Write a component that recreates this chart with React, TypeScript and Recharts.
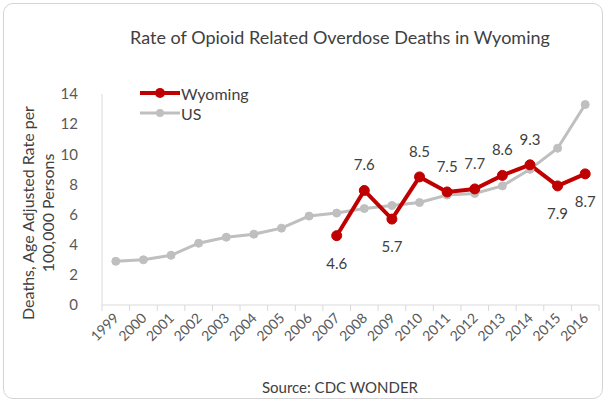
import React from "react";
import { LineChart, Line, XAxis, YAxis, LabelList } from "recharts";

const years = ["1999", "2000", "2001", "2002", "2003", "2004", "2005", "2006", "2007", "2008", "2009", "2010", "2011", "2012", "2013", "2014", "2015", "2016"];
const usRates = [2.9, 3.0, 3.3, 4.1, 4.5, 4.7, 5.1, 5.9, 6.1, 6.4, 6.6, 6.8, 7.3, 7.4, 7.9, 9.0, 10.4, 13.3];
const wyomingRates = [null, null, null, null, null, null, null, null, 4.6, 7.6, 5.7, 8.5, 7.5, 7.7, 8.6, 9.3, 7.9, 8.7];
const wyomingLabelSide = ["", "", "", "", "", "", "", "", "below", "above", "below", "above", "above", "above", "above", "above", "below", "below"];
const yTicks = [0, 2, 4, 6, 8, 10, 12, 14];

const data = years.map((year, i) => ({ year, us: usRates[i], wyoming: wyomingRates[i] }));

const W = 608;
const H = 405;
const font = "Lato, 'Open Sans', sans-serif";
const red = "#c00000";
const gray = "#bfbfbf";
const textColor = "#595959";
const margin = { top: 94, right: 9, left: 0, bottom: 0 };
const yAxisWidth = 102;
const bandWidth = (W - yAxisWidth - margin.right) / years.length;

const YearTick = (props: any) => {
	const { x, y, payload, index } = props;
	return (
		<g>
			<line x1={x - bandWidth / 2} y1={y} x2={x - bandWidth / 2} y2={y + 6} stroke="#d9d9d9" />
			{index === years.length - 1 && <line x1={x + bandWidth / 2} y1={y} x2={x + bandWidth / 2} y2={y + 6} stroke="#d9d9d9" />}
			<text x={x + 4} y={y + 14} transform={`rotate(-45, ${x + 4}, ${y + 14})`} textAnchor="end" fill={textColor} fontSize={14} fontFamily={font}>
				{payload.value}
			</text>
		</g>
	);
};

const WyomingLabel = (props: any) => {
	const { x, y, value, index } = props;
	if (value == null) return null;
	const below = wyomingLabelSide[index] === "below";
	return (
		<text x={x} y={below ? y + 33 : y - 20} textAnchor="middle" fill="#404040" fontSize={15} fontFamily={font}>
			{value.toFixed(1)}
		</text>
	);
};

const legendItems = [
	{ name: "Wyoming", color: red, width: 4, r: 5 },
	{ name: "US", color: gray, width: 3, r: 4 },
];

const LegendBox = () => (
	<div style={{ position: "absolute", left: 140, top: 83, fontFamily: font, fontSize: 16, color: "#404040" }}>
		{legendItems.map((item) => (
			<div key={item.name} style={{ display: "flex", alignItems: "center", height: 20 }}>
				<svg width={40} height={12}>
					<line x1={0} y1={6} x2={40} y2={6} stroke={item.color} strokeWidth={item.width} />
					<circle cx={20} cy={6} r={item.r} fill={item.color} />
				</svg>
				<span style={{ marginLeft: 1 }}>{item.name}</span>
			</div>
		))}
	</div>
);

export default function App() {
	return (
		<div style={{ position: "absolute", left: 0, top: 0, width: W, height: H, background: "#fff" }}>
			<div style={{ position: "absolute", left: 3, top: 3, width: 598, height: 394, border: "1.5px solid #d4d4d4", borderRadius: 10 }} />
			<div style={{ position: "absolute", left: 0, top: 0 }}>
				<LineChart width={W} height={H} data={data} margin={margin}>
					<XAxis dataKey="year" interval={0} padding={{ left: bandWidth / 2, right: bandWidth / 2 }} axisLine={{ stroke: "#d9d9d9" }} tickLine={false} tickSize={0} tickMargin={0} height={100} tick={<YearTick />} />
					<YAxis domain={[0, 14]} ticks={yTicks} width={yAxisWidth} axisLine={{ stroke: "#d9d9d9" }} tickLine={false} tickSize={0} tickMargin={24} tick={{ fontSize: 15, fill: textColor, fontFamily: font }} />
					<Line type="linear" dataKey="us" name="US" stroke={gray} strokeWidth={3} dot={{ r: 4, fill: gray, stroke: gray, strokeWidth: 1 }} isAnimationActive={false} />
					<Line type="linear" dataKey="wyoming" name="Wyoming" stroke={red} strokeWidth={4} dot={{ r: 5, fill: red, stroke: red, strokeWidth: 1 }} isAnimationActive={false}>
						<LabelList dataKey="wyoming" content={<WyomingLabel />} />
					</Line>
				</LineChart>
			</div>
			<LegendBox />
			<svg width={W} height={H} style={{ position: "absolute", left: 0, top: 0, pointerEvents: "none" }}>
				<text x={340} y={44} textAnchor="middle" fontSize={18} fill="#404040" fontFamily={font}>
					Rate of Opioid Related Overdose Deaths in Wyoming
				</text>
				<text x={34} y={213} transform="rotate(-90, 34, 213)" textAnchor="middle" fontSize={16} fill="#404040" fontFamily={font}>
					Deaths, Age Adjusted Rate per
				</text>
				<text x={54} y={213} transform="rotate(-90, 54, 213)" textAnchor="middle" fontSize={16} fill="#404040" fontFamily={font}>
					100,000 Persons
				</text>
				<text x={340} y={393} textAnchor="middle" fontSize={15} fill="#404040" fontFamily={font}>
					Source: CDC WONDER
				</text>
			</svg>
		</div>
	);
}
